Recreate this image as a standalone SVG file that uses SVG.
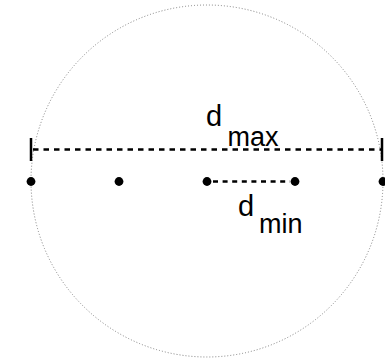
<svg xmlns="http://www.w3.org/2000/svg" width="385" height="361" viewBox="0 0 385 361">
<style>
.lbl{font-family:"Liberation Sans",Arial,sans-serif;font-size:27px;fill:#000}
.big{font-size:29px}
.dash{stroke:#000;stroke-width:2.5;fill:none}
.dot{fill:#000}
</style>
<rect width="385" height="361" fill="#fff"/>
<g id="circle">
<circle cx="207" cy="181" r="176" fill="none" stroke="#808080" stroke-width="1" stroke-dasharray="1,2"/>
</g>
<g id="connectors">
<line class="dash" x1="33" y1="149.5" x2="382" y2="149.5" stroke-dasharray="5.5,5"/>
<line x1="31" y1="138" x2="31" y2="161" stroke="#000" stroke-width="2.5"/>
<line x1="382" y1="138" x2="382" y2="161" stroke="#000" stroke-width="2.5"/>
<line class="dash" x1="213" y1="181.5" x2="290" y2="181.5" stroke-dasharray="5,4.6"/>
</g>
<g id="p1"><circle class="dot" cx="31" cy="181.5" r="4.4"/></g>
<g id="p2"><circle class="dot" cx="119" cy="181.5" r="4.4"/></g>
<g id="p3"><circle class="dot" cx="207" cy="181.5" r="4.4"/></g>
<g id="p4"><circle class="dot" cx="295" cy="181.5" r="4.4"/></g>
<g id="p5"><circle class="dot" cx="383" cy="181.5" r="4.4"/></g>
<g id="dmax"><text class="lbl big" x="206" y="126">d</text><text class="lbl" x="227.5" y="145.5">max</text></g>
<g id="dmin"><text class="lbl big" x="238" y="216">d</text><text class="lbl" x="259" y="233">min</text></g>
</svg>
